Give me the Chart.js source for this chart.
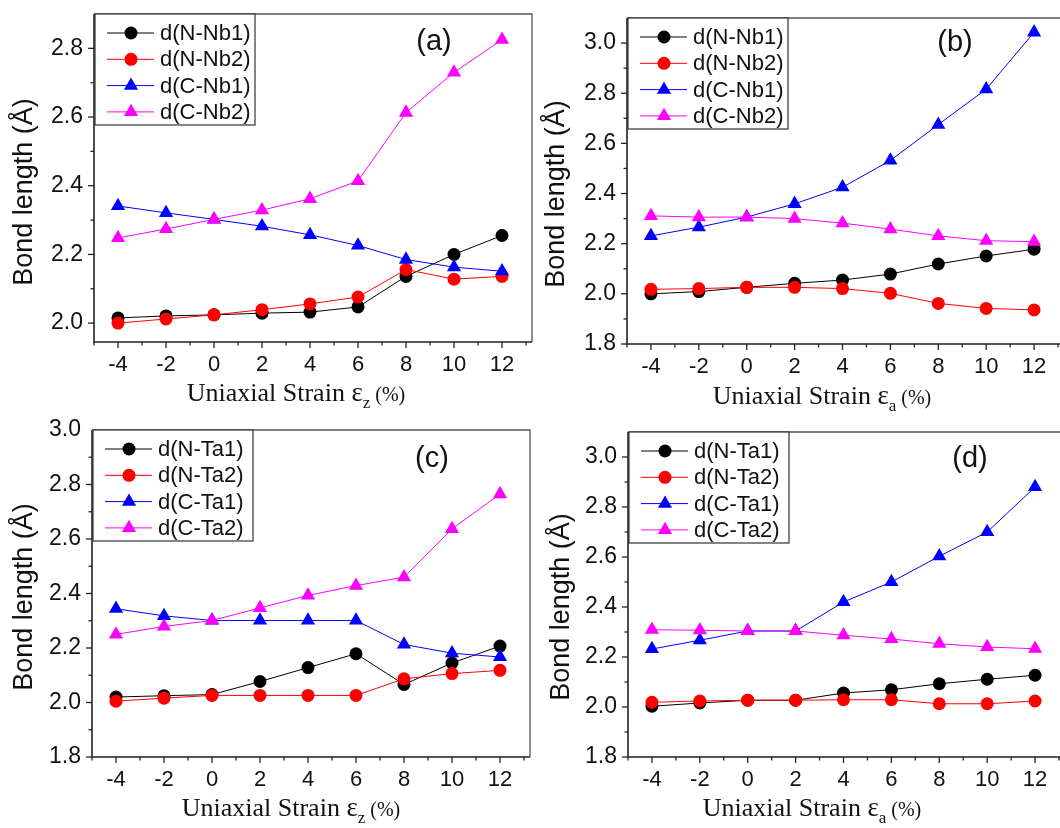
<!DOCTYPE html>
<html>
<head>
<meta charset="utf-8">
<script src="https://cdn.jsdelivr.net/npm/chart.js@4.4.1/dist/chart.umd.min.js"></script>
<style>
  html, body { margin: 0; padding: 0; background: #fff; width: 1060px; height: 828px; overflow: hidden; }
  canvas { position: absolute; left: 0; top: 0; }
</style>
</head>
<body>
<canvas id="panelA" width="1100" height="828"></canvas>
<canvas id="panelB" width="1100" height="828"></canvas>
<canvas id="panelC" width="1100" height="828"></canvas>
<canvas id="panelD" width="1100" height="828"></canvas>
<script>
// ---- data: bond lengths (Å) versus uniaxial strain (%) ----
const strain = [-4, -2, 0, 2, 4, 6, 8, 10, 12];
const xTicks = [-4, -2, 0, 2, 4, 6, 8, 10, 12];
const yTicksA = [2.0, 2.2, 2.4, 2.6, 2.8];
const yTicksB = [1.8, 2.0, 2.2, 2.4, 2.6, 2.8, 3.0];
const yTicksC = [1.8, 2.0, 2.2, 2.4, 2.6, 2.8, 3.0];
const yTicksD = [1.8, 2.0, 2.2, 2.4, 2.6, 2.8, 3.0];

const labelsNb = ['d(N-Nb1)', 'd(N-Nb2)', 'd(C-Nb1)', 'd(C-Nb2)'];
const labelsTa = ['d(N-Ta1)', 'd(N-Ta2)', 'd(C-Ta1)', 'd(C-Ta2)'];

// (a) Nb, strain along z
const aNNb1 = [2.015, 2.021, 2.024, 2.029, 2.032, 2.047, 2.136, 2.200, 2.255];
const aNNb2 = [2.000, 2.012, 2.024, 2.039, 2.056, 2.076, 2.156, 2.128, 2.136];
const aCNb1 = [2.341, 2.321, 2.302, 2.282, 2.257, 2.226, 2.185, 2.163, 2.151];
const aCNb2 = [2.248, 2.274, 2.302, 2.329, 2.362, 2.414, 2.613, 2.730, 2.825];

// (b) Nb, strain along a
const bNNb1 = [2.000, 2.009, 2.026, 2.042, 2.055, 2.079, 2.119, 2.151, 2.178];
const bNNb2 = [2.018, 2.021, 2.026, 2.026, 2.021, 2.002, 1.962, 1.942, 1.936];
const bCNb1 = [2.231, 2.266, 2.306, 2.359, 2.425, 2.532, 2.675, 2.816, 3.043];
const bCNb2 = [2.311, 2.306, 2.306, 2.300, 2.282, 2.258, 2.231, 2.212, 2.208];

// (c) Ta, strain along z
const cNTa1 = [2.020, 2.025, 2.029, 2.077, 2.128, 2.179, 2.066, 2.145, 2.207];
const cNTa2 = [2.005, 2.016, 2.026, 2.026, 2.026, 2.026, 2.087, 2.106, 2.118];
const cCTa1 = [2.344, 2.318, 2.301, 2.301, 2.301, 2.301, 2.213, 2.181, 2.167];
const cCTa2 = [2.250, 2.279, 2.301, 2.347, 2.393, 2.429, 2.460, 2.637, 2.765];

// (d) Ta, strain along a
const dNTa1 = [2.003, 2.016, 2.027, 2.027, 2.056, 2.069, 2.093, 2.111, 2.127];
const dNTa2 = [2.019, 2.024, 2.027, 2.027, 2.029, 2.029, 2.013, 2.013, 2.024];
const dCTa1 = [2.232, 2.267, 2.304, 2.304, 2.420, 2.500, 2.603, 2.700, 2.880];
const dCTa2 = [2.309, 2.307, 2.304, 2.304, 2.287, 2.272, 2.253, 2.240, 2.233];

// ---- styling ----
const CANVAS_W = 1100, CANVAS_H = 828;
const seriesStyle = [
  { color: '#000000', shape: 'circle',   radius: 6.5, order: 4 },
  { color: '#ff0000', shape: 'circle',   radius: 6.5, order: 3 },
  { color: '#0000ff', shape: 'triangle', radius: 8.2, order: 2 },
  { color: '#ff00ff', shape: 'triangle', radius: 8.2, order: 1 }
];
const SANS = '"Liberation Sans", Arial, sans-serif';
const SERIF = '"Liberation Serif", "Times New Roman", serif';

const panels = [
  { id: 'panelA', tag: '(a)', sub: 'z', labels: labelsNb, series: [aNNb1, aNNb2, aCNb1, aCNb2],
    yMin: 1.945, yMax: 2.9, yTicks: yTicksA,
    box: { L: 94, T: 14, R: 532, B: 342 },
    tagPos: [434, 42], yTitle: [25, 192], xTitle: [296, 401] },
  { id: 'panelB', tag: '(b)', sub: 'a', labels: labelsNb, series: [bNNb1, bNNb2, bCNb1, bCNb2],
    yMin: 1.8, yMax: 3.1, yTicks: yTicksB,
    box: { L: 627, T: 18, R: 1064, B: 344 },
    tagPos: [955, 43], yTitle: [557, 194], xTitle: [822, 404] },
  { id: 'panelC', tag: '(c)', sub: 'z', labels: labelsTa, series: [cNTa1, cNTa2, cCTa1, cCTa2],
    yMin: 1.8, yMax: 3.0, yTicks: yTicksC,
    box: { L: 92, T: 430, R: 530, B: 757 },
    tagPos: [432, 459], yTitle: [25, 597], xTitle: [291, 816] },
  { id: 'panelD', tag: '(d)', sub: 'a', labels: labelsTa, series: [dNTa1, dNTa2, dCTa1, dCTa2],
    yMin: 1.8, yMax: 3.1, yTicks: yTicksD,
    box: { L: 628, T: 432, R: 1065, B: 757 },
    tagPos: [970, 459], yTitle: [562, 607], xTitle: [812, 816] }
];

function drawMarker(ctx, shape, x, y, r, color) {
  ctx.save();
  ctx.fillStyle = color;
  ctx.beginPath();
  if (shape === 'circle') {
    ctx.arc(x, y, r, 0, Math.PI * 2);
  } else {
    let a = 0;
    ctx.moveTo(x + Math.sin(a) * r, y - Math.cos(a) * r);
    a += 2 * Math.PI / 3;
    ctx.lineTo(x + Math.sin(a) * r, y - Math.cos(a) * r);
    a += 2 * Math.PI / 3;
    ctx.lineTo(x + Math.sin(a) * r, y - Math.cos(a) * r);
    ctx.closePath();
  }
  ctx.fill();
  ctx.restore();
}

// Frame, minor/major ticks, legend, titles and panel tag
const panelDecor = {
  id: 'panelDecor',
  afterDraw(chart, args, o) {
    const ctx = chart.ctx;
    const { left: L, top: T, right: R, bottom: B } = chart.chartArea;
    const xs = chart.scales.x, ys = chart.scales.y;
    ctx.save();

    // plot frame
    ctx.strokeStyle = '#555';
    ctx.lineWidth = 1.3;
    ctx.beginPath();
    ctx.moveTo(L, T); ctx.lineTo(R, T); ctx.lineTo(R, B);
    ctx.stroke();
    ctx.strokeStyle = '#222';
    ctx.lineWidth = 1.6;
    ctx.beginPath();
    ctx.moveTo(L, T); ctx.lineTo(L, B); ctx.lineTo(R, B);
    ctx.stroke();

    // ticks on bottom axis
    ctx.lineWidth = 1.3;
    for (let v = Math.ceil(xs.min); v <= xs.max; v += 1) {
      const px = xs.getPixelForValue(v);
      const len = (v % 2 === 0) ? 6 : 3.5;
      ctx.beginPath(); ctx.moveTo(px, B); ctx.lineTo(px, B + len); ctx.stroke();
    }
    // ticks on left axis
    for (let k = Math.ceil(ys.min * 10 - 1e-6); k / 10 <= ys.max + 1e-6; k += 1) {
      const v = k / 10;
      const py = ys.getPixelForValue(v);
      if (py < T + 0.5) continue;
      const len = (k % 2 === 0) ? 6 : 3.5;
      ctx.beginPath(); ctx.moveTo(L, py); ctx.lineTo(L - len, py); ctx.stroke();
    }

    // legend box
    const bx = L + 1, by = T, bw = 160, bh = 111;
    ctx.fillStyle = '#fff';
    ctx.fillRect(bx, by, bw, bh);
    ctx.strokeStyle = '#333';
    ctx.lineWidth = 1.2;
    ctx.strokeRect(bx, by, bw, bh);
    ctx.font = '22px ' + SANS;
    ctx.textBaseline = 'middle';
    ctx.textAlign = 'left';
    chart.data.datasets.forEach((ds, i) => {
      const st = seriesStyle[i];
      const ry = by + 19 + 26.3 * i;
      ctx.strokeStyle = st.color;
      ctx.lineWidth = 1;
      ctx.beginPath(); ctx.moveTo(L + 13, ry); ctx.lineTo(L + 60, ry); ctx.stroke();
      drawMarker(ctx, st.shape, L + 37, ry, st.radius, st.color);
      ctx.fillStyle = '#111';
      ctx.fillText(ds.label, L + 66, ry + 1);
    });

    // panel tag
    ctx.fillStyle = '#111';
    ctx.font = '29px ' + SANS;
    ctx.textAlign = 'center';
    ctx.textBaseline = 'middle';
    ctx.fillText(o.tag, o.tagPos[0], o.tagPos[1]);

    // y title
    ctx.save();
    ctx.translate(o.yTitle[0], o.yTitle[1]);
    ctx.rotate(-Math.PI / 2);
    ctx.font = '27px ' + SANS;
    ctx.textAlign = 'center';
    ctx.textBaseline = 'middle';
    ctx.fillText('Bond length (Å)', 0, 0);
    ctx.restore();

    // x title with subscript
    const parts = [
      { t: 'Uniaxial Strain ', f: '26px ' + SERIF, dy: 0 },
      { t: 'ε', f: '27px ' + SERIF, dy: 0 },
      { t: o.sub, f: '17px ' + SERIF, dy: 7 },
      { t: ' (%)', f: '20px ' + SERIF, dy: 0 }
    ];
    let total = 0;
    parts.forEach(p => { ctx.font = p.f; p.w = ctx.measureText(p.t).width; total += p.w; });
    let cx = o.xTitle[0] - total / 2;
    ctx.textAlign = 'left';
    ctx.textBaseline = 'alphabetic';
    parts.forEach(p => { ctx.font = p.f; ctx.fillText(p.t, cx, o.xTitle[1] + p.dy); cx += p.w; });

    ctx.restore();
  }
};

panels.forEach(p => {
  const datasets = p.series.map((vals, i) => {
    const st = seriesStyle[i];
    return {
      label: p.labels[i],
      data: strain.map((x, j) => ({ x: x, y: vals[j] })),
      borderColor: st.color,
      backgroundColor: st.color,
      borderWidth: 1,
      pointStyle: st.shape,
      pointRadius: st.radius,
      pointBorderWidth: 0,
      pointBackgroundColor: st.color,
      tension: 0,
      order: st.order,
      clip: false
    };
  });
  new Chart(document.getElementById(p.id), {
    type: 'line',
    data: { datasets },
    plugins: [panelDecor],
    options: {
      responsive: false,
      animation: false,
      events: [],
      layout: { padding: { left: 0, top: p.box.T, right: CANVAS_W - p.box.R, bottom: 0 } },
      plugins: {
        legend: { display: false },
        tooltip: { enabled: false },
        panelDecor: { tag: p.tag, sub: p.sub, tagPos: p.tagPos, yTitle: p.yTitle, xTitle: p.xTitle }
      },
      scales: {
        x: {
          type: 'linear', min: -5, max: 13.25,
          grid: { display: false, drawTicks: false }, border: { display: false },
          afterBuildTicks: s => { s.ticks = xTicks.map(v => ({ value: v })); },
          afterFit: s => { s.height = CANVAS_H - p.box.B; s.paddingLeft = 0; s.paddingRight = 0; },
          ticks: { autoSkip: false, maxRotation: 0, padding: 10, color: '#111',
                   font: { family: SANS, size: 22 }, callback: v => String(v) }
        },
        y: {
          type: 'linear', min: p.yMin, max: p.yMax,
          grid: { display: false, drawTicks: false }, border: { display: false },
          afterBuildTicks: s => { s.ticks = p.yTicks.map(v => ({ value: v })); },
          afterFit: s => { s.width = p.box.L; s.paddingTop = 0; s.paddingBottom = 0; },
          ticks: { autoSkip: false, padding: 11, color: '#111',
                   font: { family: SANS, size: 23 }, callback: v => Number(v).toFixed(1) }
        }
      }
    }
  });
});
</script>
</body>
</html>
